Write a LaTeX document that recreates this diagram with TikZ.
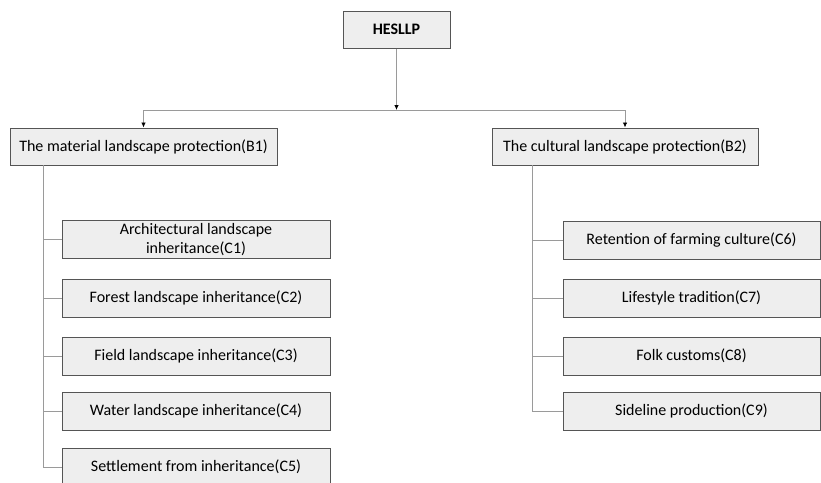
\documentclass[tikz,border=0pt]{standalone}
\usepackage{fontspec}
\setmainfont{Carlito}
\usetikzlibrary{positioning, arrows.meta}
\definecolor{boxfill}{HTML}{EEEEEE}
\definecolor{boxline}{HTML}{555555}
\definecolor{treeline}{HTML}{9A9A9A}
\tikzset{
    basebox/.style={rectangle, draw=boxline, fill=boxfill, line width=1pt, align=center, inner sep=2pt, font=\fontsize{16}{19}\selectfont},
    rootbox/.style={basebox, minimum width=107pt, minimum height=37pt, font=\fontsize{16}{19}\selectfont\bfseries},
    groupbox/.style={basebox, minimum width=267pt, minimum height=37pt},
    leftbox/.style={basebox, minimum width=268pt, minimum height=38pt},
    rightbox/.style={basebox, minimum width=257pt, minimum height=38pt},
    arrow/.style={draw=treeline, line width=0.8pt, -{Latex[black,length=5pt,width=4.5pt]}},
    tree/.style={draw=treeline, line width=0.8pt}
}

\begin{document}
\begin{tikzpicture}[x=1pt, y=-1pt]

    \useasboundingbox (0,0) rectangle (821,482);

    % Nodes
    \node (root) [rootbox] at (396.5,29.5) {HESLLP};
    \node (b1) [groupbox] at (143.5,146.5) {The material landscape protection(B1)};
    \node (b2) [groupbox, minimum width=266pt] at (625,146.5) {The cultural landscape protection(B2)};

    \node (c1) [leftbox] at (196,239.5) {Architectural landscape\\inheritance(C1)};
    \node (c2) [leftbox] at (196,298) {Forest landscape inheritance(C2)};
    \node (c3) [leftbox] at (196,356) {Field landscape inheritance(C3)};
    \node (c4) [leftbox] at (196,411) {Water landscape inheritance(C4)};
    \node (c5) [leftbox] at (196,467) {Settlement from inheritance(C5)};

    \node (c6) [rightbox] at (691.5,240) {Retention of farming culture(C6)};
    \node (c7) [rightbox] at (691.5,298) {Lifestyle tradition(C7)};
    \node (c8) [rightbox] at (691.5,356) {Folk customs(C8)};
    \node (c9) [rightbox] at (691.5,411) {Sideline production(C9)};

    \coordinate (split) at (396.5,110);
    \coordinate (trunkl) at (43,165);
    \coordinate (trunkr) at (532,165);

    % Arrows
    \draw [arrow] (root) -- (split);
    \draw [arrow] (split) -| (b1);
    \draw [arrow] (split) -| (b2);

    \foreach \c in {c1,c2,c3,c4,c5}
        \draw [tree] (trunkl) |- (\c.west);
    \foreach \c in {c6,c7,c8,c9}
        \draw [tree] (trunkr) |- (\c.west);

\end{tikzpicture}
\end{document}
